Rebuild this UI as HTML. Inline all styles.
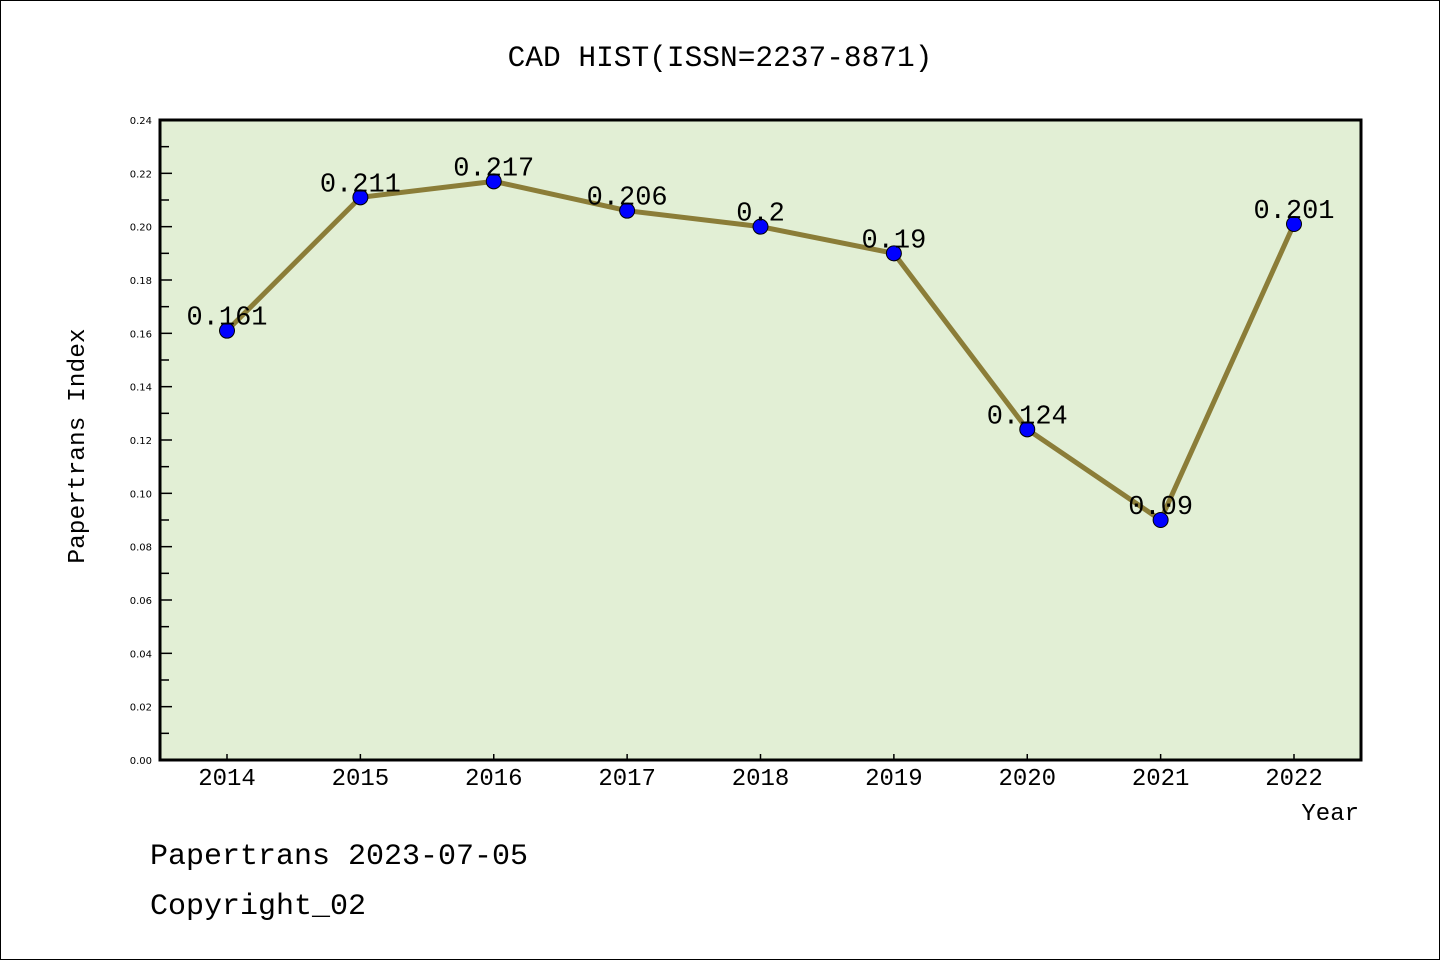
<!DOCTYPE html>
<html><head><meta charset="utf-8"><style>
html,body{margin:0;padding:0;background:#fff}
svg{display:block}
text{font-family:"Liberation Mono","WenQuanYi Zen Hei",monospace;fill:#000}
.tk{font-family:"DejaVu Sans",sans-serif;font-size:10px}
</style></head><body>
<svg id="chart" width="1440" height="960" viewBox="0 0 1440 960" xmlns="http://www.w3.org/2000/svg">
<rect x="0.5" y="0.5" width="1439" height="959" fill="#fff" stroke="#000" stroke-width="1"/>
<text x="720" y="66" font-size="29.5" text-anchor="middle">CAD HIST(ISSN=2237-8871)</text>
<rect x="160" y="120" width="1201" height="640" fill="#e2efd5"/>
<g id="axes"></g>
<g id="marks"></g>
<rect x="160" y="120" width="1201" height="640" fill="none" stroke="#000" stroke-width="3"/>
<text x="84" y="446" font-size="24.5" text-anchor="middle" transform="rotate(-90 84 446)">Papertrans Index</text>
<text x="1359" y="820" font-size="24" text-anchor="end">Year</text>
<text x="150" y="864" font-size="30">Papertrans 2023-07-05</text>
<text x="150" y="914" font-size="30">Copyright_02</text>
</svg>
<script>
const years = [2014,2015,2016,2017,2018,2019,2020,2021,2022];
const values = [0.161,0.211,0.217,0.206,0.2,0.19,0.124,0.09,0.201];
const valueLabels = ["0.161","0.211","0.217","0.206","0.2","0.19","0.124","0.09","0.201"];
const yTicks = [0,0.02,0.04,0.06,0.08,0.10,0.12,0.14,0.16,0.18,0.20,0.22,0.24];
const NS="http://www.w3.org/2000/svg";
const x = y => 227 + (y-2014)*133.375;
const yv = v => 760 - v/0.24*640;
const axes=document.getElementById('axes'), marks=document.getElementById('marks');
function mk(tag,attrs,parent){const e=document.createElementNS(NS,tag);for(const k in attrs)e.setAttribute(k,attrs[k]);parent.appendChild(e);return e;}
yTicks.forEach((t,i)=>{
  const py=yv(t);
  const l=mk('line',{x1:160,x2:172,y1:py,y2:py,stroke:'#000','stroke-width':1.5},axes);
  
  
  const tx=mk('text',{x:152,y:py+4,'text-anchor':'end',class:'tk'},axes);
  tx.textContent=t.toFixed(2);
  
  
  if(i<yTicks.length-1){
    const my=yv(t+0.01);
    const m=mk('line',{x1:160,x2:169,y1:my,y2:my,stroke:'#000','stroke-width':1.5},axes);
    
    
  }
});
years.forEach(yr=>{
  const px=x(yr);
  const l=mk('line',{x1:px,x2:px,y1:760,y2:754,stroke:'#000','stroke-width':1.5},axes);
  
  
  const tx=mk('text',{x:px,y:785,'text-anchor':'middle','font-size':24},axes);
  tx.textContent=yr;
  
  
});
const pts=years.map((yr,i)=>x(yr)+','+yv(values[i])).join(' ');
const pl=mk('polyline',{points:pts,fill:'none',stroke:'#8b7d38','stroke-width':5,'stroke-linejoin':'round'},marks);


years.forEach((yr,i)=>{
  const c=mk('circle',{cx:x(yr),cy:yv(values[i]),r:7.5,fill:'#0000ff',stroke:'#000','stroke-width':1},marks);
  
  
});
years.forEach((yr,i)=>{
  const t=mk('text',{x:x(yr),y:yv(values[i])-6,'text-anchor':'middle','font-size':27},marks);
  t.textContent=valueLabels[i];
  
  
});
</script>
</body></html>
